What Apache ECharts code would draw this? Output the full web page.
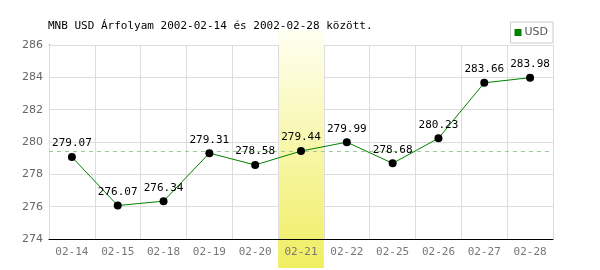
<!DOCTYPE html>
<html>
<head>
<meta charset="utf-8">
<script src="https://cdn.jsdelivr.net/npm/echarts@6/dist/echarts.min.js"></script>
<style>html,body{margin:0;padding:0;background:#fff}#c{width:600px;height:270px}</style>
</head>
<body>
<div id="c"></div>
<script>
const titleText = 'MNB USD Árfolyam 2002-02-14 és 2002-02-28 között.';
const categories = ['02-14','02-15','02-18','02-19','02-20','02-21','02-22','02-25','02-26','02-27','02-28'];
const usdValues = [279.07,276.07,276.34,279.31,278.58,279.44,279.99,278.68,280.23,283.66,283.98];
const referenceLevel = 279.45;
const highlightCategory = '02-21';
const yMin = 274, yMax = 286, yStep = 2;

const chart = echarts.init(document.getElementById('c'), null, {renderer:'canvas'});
const hiIdx = categories.indexOf(highlightCategory);
chart.setOption({
  animation:false,
  backgroundColor:'#fff',
  title:{text:titleText, left:43, top:16, textStyle:{fontFamily:'DejaVu Sans Mono', fontSize:11, fontWeight:'normal', color:'#000'}},
  legend:{right:47, top:22, data:['USD'], icon:'rect', itemWidth:7, itemHeight:7, itemGap:4,
    borderColor:'#ccc', borderWidth:1, padding:[5,5,5,4],
    textStyle:{fontFamily:'DejaVu Sans', fontSize:11, color:'#555', padding:[0,0,0,-2]}},
  grid:{left:49, right:47, top:45, bottom:31},
  xAxis:{type:'category', data:categories, boundaryGap:true, z:3,
    axisLine:{lineStyle:{color:'#000', width:1}}, axisTick:{show:false},
    axisLabel:{fontFamily:'DejaVu Sans Mono', fontSize:11, color:'#777', margin:8},
    splitLine:{show:true, lineStyle:{color:'#ddd', width:1}}},
  yAxis:{type:'value', min:yMin, max:yMax, interval:yStep, z:0,
    axisLine:{show:true, lineStyle:{color:'#000', width:1}}, axisTick:{show:false},
    axisLabel:{fontFamily:'DejaVu Sans', fontSize:11, color:'#666', margin:6},
    splitLine:{lineStyle:{color:'#ddd', width:1}}},
  series:[
    {type:'line', name:'USD', data:usdValues.map(v=>({value:v, itemStyle:{color:'#000'}})), z:5,
     lineStyle:{color:'#008000', width:1}, itemStyle:{color:'#008000'},
     symbol:'circle', symbolSize:8,
     label:{show:true, position:'top', distance:4, fontFamily:'DejaVu Sans Mono', fontSize:11, color:'#000'},
     markLine:{silent:true, symbol:'none', label:{show:false},
       lineStyle:{color:'#9c9', type:[4,4], width:1}, data:[{yAxis:referenceLevel}]}}
  ]
});

// highlight band positioned via the library's category scale
const x0 = chart.convertToPixel({xAxisIndex:0}, highlightCategory);
const x1 = chart.convertToPixel({xAxisIndex:0}, categories[hiIdx+1]);
const w = x1 - x0;
chart.setOption({graphic:[{type:'rect', z:1, silent:true,
  shape:{x:x0 - w/2, y:30, width:w, height:238},
  style:{fill:new echarts.graphic.LinearGradient(0,0,0,1,[{offset:0,color:'#fffff2'},{offset:1,color:'#f0ee60'}])}}]});
</script>
</body>
</html>
